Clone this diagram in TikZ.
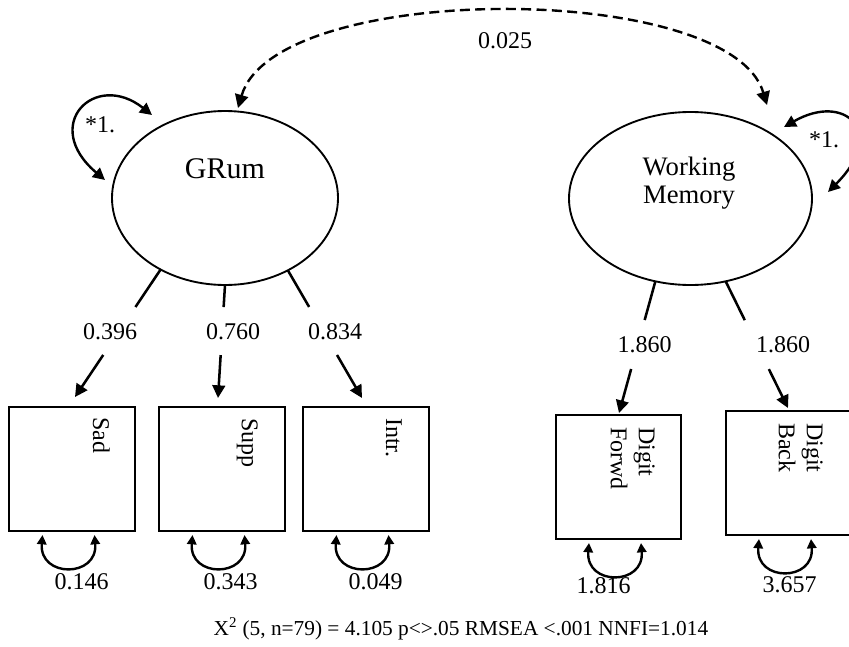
\documentclass[tikz,border=0pt]{standalone}
\usepackage{fontspec}
\setmainfont{Liberation Serif}
\usetikzlibrary{arrows.meta,shapes.geometric,calc}
\begin{document}
\begin{tikzpicture}[x=0.75pt,y=-0.75pt,
  lat/.style={draw,ellipse,line width=1.4pt,inner sep=0pt,outer sep=0pt},
  obs/.style={draw,rectangle,line width=1.9pt,inner sep=0pt,outer sep=0pt},
  num/.style={font=\fontsize{18}{21}\selectfont,inner sep=0pt},
  boxtext/.style={font=\fontsize{18}{21}\selectfont,rotate=-90,anchor=north west,inner sep=0pt,align=left},
  load/.style={line width=1.9pt,-{Triangle[length=9.5pt,width=9.5pt]}},
  loadline/.style={line width=1.9pt},
  resid/.style={line width=1.8pt,{Triangle[length=7pt,width=7pt]}-{Triangle[length=7pt,width=7pt]}},
  var/.style={line width=1.8pt,{Triangle[length=9pt,width=9pt]}-{Triangle[length=9pt,width=9pt]}},
  cov/.style={line width=1.8pt,dash pattern=on 7.5pt off 4pt,{Triangle[length=10pt,width=10pt]}-{Triangle[length=10pt,width=10pt]}}
]
\path[fill=white,use as bounding box] (0,0) rectangle (849,646);

% latent variables
\node[lat,minimum width=169.5pt,minimum height=130.5pt] (grum) at (225,198) {};
\node[lat,minimum width=182.25pt,minimum height=129.75pt] (wm) at (690.5,198.5) {};
\node[font=\fontsize{22.5}{27}\selectfont,anchor=base,inner sep=0pt] (grumt) at (225,178) {GRum};
\node[font=\fontsize{20}{21}\selectfont,align=center,inner sep=0pt] (wmt) at (689,183) {Working\\Memory};

% observed variables
\node[obs,minimum width=94.5pt,minimum height=93pt] (sad) at (72,469) {};
\node[obs,minimum width=94.5pt,minimum height=93pt] (supp) at (222,469) {};
\node[obs,minimum width=94.5pt,minimum height=93pt] (intr) at (366,469) {};
\node[obs,minimum width=93.75pt,minimum height=93pt] (dfw) at (618.5,477) {};
\node[obs,minimum width=93.75pt,minimum height=93pt] (dbk) at (788.5,473) {};

\node[boxtext] (sadt) at (110,417) {Sad};
\node[boxtext] (suppt) at (258,418) {Supp};
\node[boxtext] (intrt) at (402,418) {Intr.};
\node[boxtext] (dfwt) at (655,427) {Digit\\Forwd};
\node[boxtext] (dbkt) at (823,423) {Digit\\Back};

% loadings
\coordinate (t1) at (75,397);
\coordinate (t2) at (218,398);
\coordinate (t3) at (362,398);
\coordinate (t4) at (619,413);
\coordinate (t5) at (788,408);

\path (grum.228) -- (t1) coordinate[pos=0.294] (g1a) coordinate[pos=0.67] (g1b);
\path (grum.270) -- (t2) coordinate[pos=0.195] (g2a) coordinate[pos=0.62] (g2b);
\path (grum.311) -- (t3) coordinate[pos=0.287] (g3a) coordinate[pos=0.663] (g3b);
\path (wm.247) -- (t4) coordinate[pos=0.294] (g4a) coordinate[pos=0.666] (g4b);
\path (wm.293.5) -- (t5) coordinate[pos=0.307] (g5a) coordinate[pos=0.693] (g5b);

\draw[loadline] (grum.228) -- (g1a);
\draw[load] (g1b) -- (t1);
\draw[loadline] (grum.270) -- (g2a);
\draw[load] (g2b) -- (t2);
\draw[loadline] (grum.311) -- (g3a);
\draw[load] (g3b) -- (t3);
\draw[loadline] (wm.247) -- (g4a);
\draw[load] (g4b) -- (t4);
\draw[loadline] (wm.293.5) -- (g5a);
\draw[load] (g5b) -- (t5);

\node[num] (l1) at (110,332) {0.396};
\node[num] (l2) at (233,332) {0.760};
\node[num] (l3) at (335,332) {0.834};
\node[num] (l4) at (644.5,345) {1.860};
\node[num] (l5) at (783,345) {1.860};

% residual variances
\foreach \b in {sad,supp,intr,dfw,dbk}{
  \draw[resid] ($(\b.south)+(-29.5,4)$) .. controls ($(\b.south)+(-33,47)$) and ($(\b.south)+(26,47)$) .. ($(\b.south)+(22.5,4)$);
}
\node[num] (r1) at (81.5,582) {0.146};
\node[num] (r2) at (230.5,582) {0.343};
\node[num] (r3) at (375.5,582) {0.049};
\node[num] (r4) at (603.5,585.5) {1.816};
\node[num] (r5) at (789.5,585) {3.657};

% latent variances
\coordinate (va1) at (105,180);
\coordinate (va2) at (152,115);
\draw[var] (va1) .. controls (40,125) and (95,70) .. (va2);
\node[num] (v1) at (100,125) {*1.};
\coordinate (vb1) at (784,127);
\coordinate (vb2) at (828,192);
\draw[var] (vb1) .. controls (845,92) and (888,132) .. (vb2);
\node[num] (v2) at (824,140) {*1.};

% covariance
\coordinate (cl) at (238,108);
\coordinate (cr) at (767,105);
\draw[cov] (cl) .. controls (275,-19.5) and (730,-19.5) .. (cr);
\node[num] (c) at (505,41) {0.025};

% fit
\node[font=\fontsize{16}{19}\selectfont,inner sep=0pt] (fit) at (461,629) {X\textsuperscript{2} (5, n=79) = 4.105 p<>.05 RMSEA <.001 NNFI=1.014};
\end{tikzpicture}
\end{document}
